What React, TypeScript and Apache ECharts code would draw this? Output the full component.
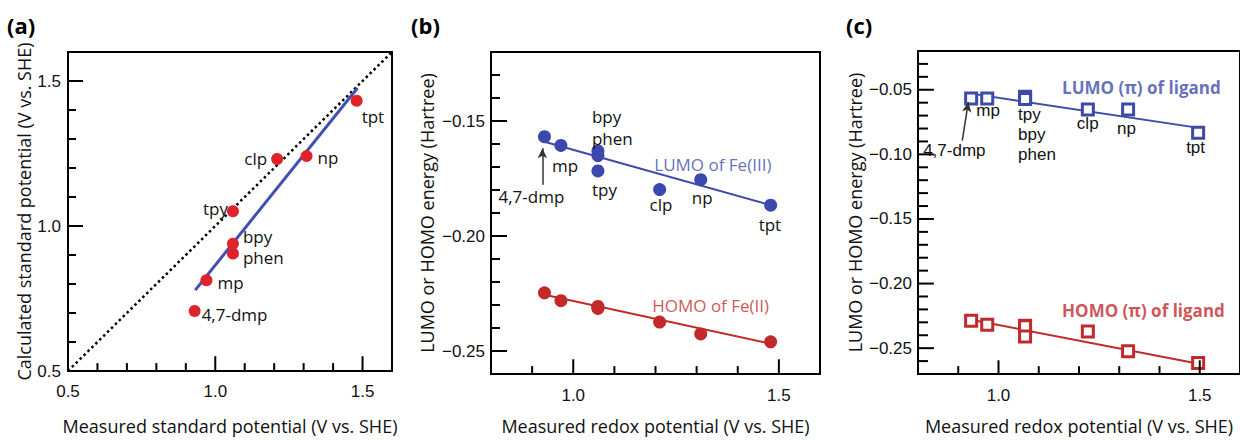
import React, { useEffect, useRef } from "react";
import * as echarts from "echarts";

// ---------- data ----------
const compounds = ["4,7-dmp", "mp", "tpy", "bpy", "phen", "clp", "np", "tpt"];

// panel (a)
const aMeasured = [0.93, 0.97, 1.06, 1.06, 1.06, 1.21, 1.31, 1.48];
const aCalculated = [0.707, 0.813, 1.051, 0.939, 0.905, 1.231, 1.241, 1.432];
const aFit = [[0.932, 0.779], [1.483, 1.476]];
const aDiagonal = [[0.5, 0.5], [1.6, 1.6]];

// panel (b)
const bMeasured = [0.93, 0.97, 1.06, 1.06, 1.06, 1.21, 1.31, 1.48];
const bLumoFe3 = [-0.1568, -0.1606, -0.1717, -0.163, -0.165, -0.1798, -0.1755, -0.1866];
const bHomoFe2 = [-0.2247, -0.2281, -0.231, -0.2306, -0.2315, -0.2374, -0.2426, -0.246];
const bLumoFit = [[0.93, -0.159], [1.48, -0.1866]];
const bHomoFit = [[0.93, -0.2255], [1.48, -0.2468]];
const bArrow = [[0.925, -0.1777], [0.925, -0.1619]];

// panel (c)
const cMeasured = [0.932, 0.972, 1.066, 1.066, 1.066, 1.222, 1.322, 1.496];
const cLumoLig = [-0.0568, -0.0568, -0.0555, -0.0565, -0.0572, -0.0652, -0.0652, -0.0833];
const cHomoLig = [-0.2288, -0.2318, -0.2326, -0.233, -0.2409, -0.2371, -0.2523, -0.2614];
const cLumoFit = [[0.932, -0.053], [1.497, -0.0795]];
const cHomoFit = [[0.932, -0.228], [1.497, -0.262]];
const cArrow = [[0.91, -0.0894], [0.925, -0.0595]];

// axis ranges
const aRange = { x: [0.5, 1.6], y: [0.5, 1.6] };
const bRange = { x: [0.8, 1.6], y: [-0.26, -0.12] };
const cRange = { x: [0.8, 1.6], y: [-0.27, -0.02] };

// tick values
const aMajor = [0.5, 1.0, 1.5];
const aMinor = [0.6, 0.7, 0.8, 0.9, 1.1, 1.2, 1.3, 1.4];
const bcXMajor = [1.0, 1.5];
const bcXMinor = [0.9, 1.1, 1.2, 1.3, 1.4];
const bYMajor = [-0.15, -0.2, -0.25];
const bYMinor = [-0.13, -0.14, -0.16, -0.17, -0.18, -0.19, -0.21, -0.22, -0.23, -0.24];
const cYMajor = [-0.05, -0.1, -0.15, -0.2, -0.25];
const cYMinor = [
  -0.03, -0.04, -0.06, -0.07, -0.08, -0.09, -0.11, -0.12, -0.13, -0.14,
  -0.16, -0.17, -0.18, -0.19, -0.21, -0.22, -0.23, -0.24, -0.26,
];

// annotation texts
const bLumoText = { text: "LUMO of Fe(III)", at: [1.197, -0.169] };
const bHomoText = { text: "HOMO of Fe(II)", at: [1.192, -0.2302] };
const cLumoText = { text: "LUMO (\u03c0) of ligand", at: [1.158, -0.0485] };
const cHomoText = { text: "HOMO (\u03c0) of ligand", at: [1.158, -0.2212] };

// ---------- layout ----------
const gridA = { left: 68, top: 52, width: 324, height: 323 };
const gridB = { left: 491, top: 52, width: 329, height: 328 };
const gridC = { left: 918, top: 51, width: 324, height: 330 };

// label placement (pixel offsets of label from point; align)
const aLabelPos: Record<string, [number, number, string]> = {
  "4,7-dmp": [7, 4, "left"],
  mp: [11, 2, "left"],
  tpy: [-5, -3, "right"],
  bpy: [10, -7, "left"],
  phen: [10, 4, "left"],
  clp: [-10, -1, "right"],
  np: [11, 1, "left"],
  tpt: [5, 16, "left"],
};
const bLabelText: Record<string, string> = {};
const bLabelPos: Record<string, [number, number]> = {
  "4,7-dmp": [-46, 60],
  mp: [-9, 20],
  tpy: [-6, 19],
  bpy: [-6, -34],
  phen: [-6, -17],
  clp: [-10, 15],
  np: [-9, 18],
  tpt: [-12, 19],
};
const cLabelText: Record<string, string> = { tpy: "tpy\nbpy\nphen", bpy: "", phen: "" };
const cLabelPos: Record<string, [number, number]> = {
  "4,7-dmp": [-48, 52],
  mp: [-11, 12],
  tpy: [-7, 38],
  clp: [-11, 14],
  np: [-11, 19],
  tpt: [-12, 15],
};

// ---------- styles ----------
const SANS = "'Open Sans', 'Noto Sans', sans-serif";
const ARIAL = "'Liberation Sans', Arial, sans-serif";
const RED_A = "#e0222b";
const BLUE_A = "#4050b0";
const BLUE_B = "#3b48ae";
const RED_B = "#c22a2a";
const BLUE_C = "#3c4ba8";
const RED_C = "#c02a2c";

const fmt1 = (v: number) => v.toFixed(1);
const fmt2 = (v: number) => (v < 0 ? "\u2212" : "") + Math.abs(v).toFixed(2);

function makeAxis(
  dim: "x" | "y",
  gridIndex: number,
  range: number[],
  major: number[],
  formatter: (v: number) => string,
  name: string,
  nameGap: number,
  labelMargin: number
) {
  return {
    type: "value",
    gridIndex,
    min: range[0],
    max: range[1],
    position: dim === "x" ? "bottom" : "left",
    axisLine: { show: true, onZero: false, lineStyle: { color: "#000", width: 2 } },
    axisTick: { show: false },
    axisLabel: {
      show: true,
      customValues: major,
      formatter: (v: number) => formatter(v),
      fontSize: 17,
      fontFamily: ARIAL,
      color: "#111",
      margin: labelMargin,
    },
    splitLine: { show: false },
    name,
    nameLocation: "middle",
    nameGap,
    nameTextStyle: { fontSize: 18, fontFamily: SANS, color: "#111" },
  };
}

// inside tick marks: one short line series per tick, placed through the axis scale
function tickLines(
  gi: number,
  dim: "x" | "y",
  values: number[],
  range: { x: number[]; y: number[] },
  grid: { width: number; height: number },
  lenPx: number
) {
  return values.map((v) => {
    let data: number[][];
    if (dim === "x") {
      const y0 = range.y[0];
      const dy = (lenPx * (range.y[1] - range.y[0])) / grid.height;
      data = [[v, y0], [v, y0 + dy]];
    } else {
      const x0 = range.x[0];
      const dx = (lenPx * (range.x[1] - range.x[0])) / grid.width;
      data = [[x0, v], [x0 + dx, v]];
    }
    return {
      type: "line",
      xAxisIndex: gi,
      yAxisIndex: gi,
      data,
      symbol: "none",
      showSymbol: false,
      silent: true,
      clip: false,
      lineStyle: { color: "#000", width: 2 },
      z: 4,
    };
  });
}

function pts(xs: number[], ys: number[]) {
  return xs.map((x, i) => [x, ys[i]]);
}

export default function App() {
  const ref = useRef<HTMLDivElement>(null);
  useEffect(() => {
    document.body.style.margin = "0";
    if (!ref.current) return;
    const chart = echarts.init(ref.current, undefined, { renderer: "svg" });

    const xAxes = [
      makeAxis("x", 0, aRange.x, aMajor, fmt1, "Measured standard potential (V vs. SHE)", 46, 12),
      makeAxis("x", 1, bRange.x, bcXMajor, fmt1, "Measured redox potential (V vs. SHE)", 43, 13),
      makeAxis("x", 2, cRange.x, bcXMajor, fmt1, "Measured redox potential (V vs. SHE)", 43, 13),
    ];
    const yAxes = [
      makeAxis("y", 0, aRange.y, aMajor, fmt1, "Calculated standard potential (V vs. SHE)", 33, 7),
      makeAxis("y", 1, bRange.y, bYMajor, fmt2, "LUMO or HOMO energy (Hartree)", 55, 6),
      makeAxis("y", 2, cRange.y, cYMajor, fmt2, "LUMO or HOMO energy (Hartree)", 54, 6),
    ];

    const aData = pts(aMeasured, aCalculated).map((p, i) => {
      const n = compounds[i];
      const lp = aLabelPos[n];
      return {
        value: p,
        label: {
          show: true,
          formatter: n,
          position: "inside",
          align: lp[2],
          verticalAlign: "middle",
          offset: [lp[0], lp[1]],
        },
      };
    });

    const withLabels = (
      xs: number[],
      ys: number[],
      texts: Record<string, string>,
      pos: Record<string, [number, number]>
    ) =>
      pts(xs, ys).map((p, i) => {
        const n = compounds[i];
        const t = n in texts ? texts[n] : n;
        const lp = pos[n];
        if (!t || !lp) return { value: p, label: { show: false } };
        return {
          value: p,
          label: {
            show: true,
            formatter: t,
            position: "inside",
            align: "left",
            verticalAlign: "middle",
            offset: lp,
          },
        };
      });

    const labelBase = (family: string) => ({
      color: "#111",
      fontSize: 17,
      fontFamily: family,
      lineHeight: 20,
    });

    const noteSeries = (gi: number, note: { text: string; at: number[] }, color: string, bold: boolean) => ({
      type: "scatter",
      xAxisIndex: gi,
      yAxisIndex: gi,
      symbolSize: 0,
      silent: true,
      z: 5,
      data: [
        {
          value: note.at,
          label: {
            show: true,
            formatter: note.text,
            position: "inside",
            align: "left",
            verticalAlign: "middle",
            color,
            fontSize: 17,
            fontWeight: bold ? "bold" : "normal",
            fontFamily: SANS,
          },
        },
      ],
    });

    const fitLine = (gi: number, data: number[][], color: string, width: number) => ({
      type: "line",
      xAxisIndex: gi,
      yAxisIndex: gi,
      data,
      symbol: "none",
      silent: true,
      lineStyle: { color, width },
      z: 2,
    });

    const arrowMark = (data: number[][]) => ({
      silent: true,
      symbol: ["none", "arrow"],
      symbolSize: [7, 10],
      label: { show: false },
      lineStyle: { color: "#333", width: 1.5, type: "solid" },
      data: [[{ coord: data[0] }, { coord: data[1] }]],
    });

    const gridBase = { show: true, borderColor: "#000", borderWidth: 2 };

    const option: any = {
      animation: false,
      grid: [
        { ...gridBase, ...gridA },
        { ...gridBase, ...gridB },
        { ...gridBase, ...gridC },
      ],
      xAxis: xAxes,
      yAxis: yAxes,
      graphic: [
        { type: "text", left: 7, top: 14, style: { text: "(a)", font: `bold 22px ${SANS}`, fill: "#000" } },
        { type: "text", left: 411, top: 14, style: { text: "(b)", font: `bold 22px ${SANS}`, fill: "#000" } },
        { type: "text", left: 846, top: 14, style: { text: "(c)", font: `bold 22px ${SANS}`, fill: "#000" } },
      ],
      series: [
        // (a)
        {
          type: "line",
          xAxisIndex: 0,
          yAxisIndex: 0,
          data: aDiagonal,
          symbol: "none",
          silent: true,
          lineStyle: { color: "#000", width: 2.5, type: [2.5, 3] },
          z: 1,
        },
        fitLine(0, aFit, BLUE_A, 3),
        {
          type: "scatter",
          xAxisIndex: 0,
          yAxisIndex: 0,
          symbol: "circle",
          symbolSize: 12,
          itemStyle: { color: RED_A, opacity: 1 },
          label: labelBase(SANS),
          data: aData,
          z: 3,
        },
        // (b)
        fitLine(1, bLumoFit, BLUE_B, 2),
        fitLine(1, bHomoFit, RED_B, 2),
        {
          type: "scatter",
          xAxisIndex: 1,
          yAxisIndex: 1,
          symbol: "circle",
          symbolSize: 13,
          itemStyle: { color: BLUE_B, opacity: 1 },
          label: labelBase(SANS),
          data: withLabels(bMeasured, bLumoFe3, bLabelText, bLabelPos),
          markLine: arrowMark(bArrow),
          z: 3,
        },
        {
          type: "scatter",
          xAxisIndex: 1,
          yAxisIndex: 1,
          symbol: "circle",
          symbolSize: 13,
          itemStyle: { color: RED_B, opacity: 1 },
          data: pts(bMeasured, bHomoFe2),
          z: 3,
        },
        noteSeries(1, bLumoText, BLUE_B, false),
        noteSeries(1, bHomoText, RED_B, false),
        // (c)
        fitLine(2, cLumoFit, BLUE_C, 2),
        fitLine(2, cHomoFit, RED_C, 2),
        {
          type: "scatter",
          xAxisIndex: 2,
          yAxisIndex: 2,
          symbol: "rect",
          symbolSize: 11,
          itemStyle: { color: "#fff", borderColor: BLUE_C, borderWidth: 3, opacity: 1 },
          label: labelBase(ARIAL),
          data: withLabels(cMeasured, cLumoLig, cLabelText, cLabelPos),
          markLine: arrowMark(cArrow),
          z: 3,
        },
        {
          type: "scatter",
          xAxisIndex: 2,
          yAxisIndex: 2,
          symbol: "rect",
          symbolSize: 11,
          itemStyle: { color: "#fff", borderColor: RED_C, borderWidth: 3, opacity: 1 },
          data: pts(cMeasured, cHomoLig),
          z: 3,
        },
        noteSeries(2, cLumoText, BLUE_C, true),
        noteSeries(2, cHomoText, RED_C, true),
        // tick marks
        ...tickLines(0, "x", aMajor, aRange, gridA, 15),
        ...tickLines(0, "x", aMinor, aRange, gridA, 8),
        ...tickLines(0, "y", aMajor, aRange, gridA, 15),
        ...tickLines(0, "y", aMinor, aRange, gridA, 8),
        ...tickLines(1, "x", bcXMajor, bRange, gridB, 15),
        ...tickLines(1, "x", bcXMinor, bRange, gridB, 8),
        ...tickLines(1, "y", bYMajor, bRange, gridB, 16),
        ...tickLines(1, "y", bYMinor, bRange, gridB, 9),
        ...tickLines(2, "x", bcXMajor, cRange, gridC, 14),
        ...tickLines(2, "x", bcXMinor, cRange, gridC, 8),
        ...tickLines(2, "y", cYMajor, cRange, gridC, 16),
        ...tickLines(2, "y", cYMinor, cRange, gridC, 10),
      ],
    };
    chart.setOption(option);
    return () => chart.dispose();
  }, []);
  return <div ref={ref} style={{ width: 1240, height: 440 }} />;
}
